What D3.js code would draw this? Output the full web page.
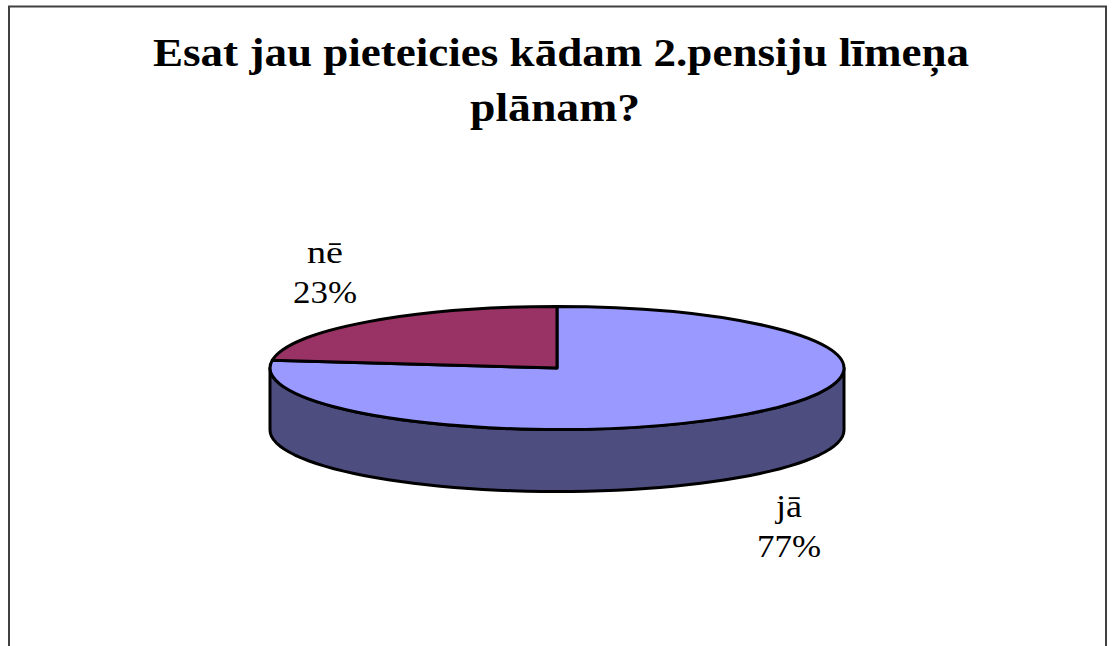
<!DOCTYPE html>
<html>
<head>
<meta charset="utf-8">
<script src="https://cdn.jsdelivr.net/npm/d3@7"></script>
<style>
  body { margin: 0; background: #fff; }
  svg { display: block; }
  text { font-family: "Liberation Serif", serif; fill: #000; }
</style>
</head>
<body>
<svg id="chart"></svg>
<script>
const categories = ["jā", "nē"];
const values = [77, 23];
const percentLabels = ["77%", "23%"];
const titleLines = ["Esat jau pieteicies kādam 2.pensiju līmeņa", "plānam?"];
const colors = ["#9999FF", "#993366"];
const sideColor = "#4D4D80";

const width = 1114;
const height = 646;

// pie geometry
const cx = 557;
const cy = 368;
const rx = 287;
const ry = 61.5;
const depth = 62;

const svg = d3.select("#chart").attr("width", width).attr("height", height);

// frame, runs off the bottom of the picture
svg.append("rect")
    .attr("x", 9)
    .attr("y", 6.5)
    .attr("width", 1097)
    .attr("height", 700)
    .attr("fill", "#fff")
    .attr("stroke", "#404040")
    .attr("stroke-width", 2);

// title
svg.selectAll(".title")
    .data(titleLines)
    .enter()
    .append("text")
    .attr("class", "title")
    .attr("x", (d, i) => i === 0 ? 153 : 470)
    .attr("y", (d, i) => 66 + i * 55)
    .attr("textLength", (d, i) => i === 0 ? 816 : 170)
    .attr("lengthAdjust", "spacingAndGlyphs")
    .style("font-size", "40px")
    .style("font-weight", "bold")
    .text(d => d);

const arcs = d3.pie().sort(null)(values);

// side wall: front half of the rim pushed down by depth
const angleScale = d3.scaleLinear().domain([0, 1]).range([Math.PI / 2, Math.PI * 3 / 2]);
const rimX = d3.scaleLinear().domain([-1, 1]).range([cx - rx, cx + rx]);
const rimY = d3.scaleLinear().domain([-1, 1]).range([cy - ry, cy + ry]);

const sideArea = d3.area()
    .x(t => rimX(Math.sin(angleScale(t))))
    .y0(t => rimY(-Math.cos(angleScale(t))))
    .y1(t => rimY(-Math.cos(angleScale(t))) + depth);

svg.append("path")
    .attr("d", sideArea(d3.range(0, 1.0001, 1 / 60)))
    .attr("fill", sideColor)
    .attr("stroke", "#000")
    .attr("stroke-width", 3)
    .attr("stroke-linejoin", "round");

// top of the pie, circle arcs squashed into an ellipse
const arcGen = d3.arc().innerRadius(0).outerRadius(rx);

svg.append("g")
    .attr("transform", `translate(${cx},${cy}) scale(1,${ry / rx})`)
    .selectAll("path")
    .data(arcs)
    .enter()
    .append("path")
    .attr("d", arcGen)
    .attr("fill", (d, i) => colors[i])
    .attr("stroke", "#000")
    .attr("stroke-width", 3)
    .attr("stroke-linejoin", "round")
    .attr("vector-effect", "non-scaling-stroke");

// labels, stretched a little wider like the original
const labelPos = [{ x: 789, y: 517 }, { x: 325, y: 263 }];
const nameWidths = [26, 36];

svg.selectAll(".pie-name")
    .data(arcs)
    .enter()
    .append("text")
    .attr("class", "pie-name")
    .attr("x", (d, i) => labelPos[i].x - nameWidths[i] / 2)
    .attr("y", (d, i) => labelPos[i].y)
    .attr("textLength", (d, i) => nameWidths[i])
    .attr("lengthAdjust", "spacingAndGlyphs")
    .style("font-size", "31px")
    .text((d, i) => categories[i]);

svg.selectAll(".pie-pct")
    .data(arcs)
    .enter()
    .append("text")
    .attr("class", "pie-pct")
    .attr("x", (d, i) => labelPos[i].x - 32)
    .attr("y", (d, i) => labelPos[i].y + 40)
    .attr("textLength", 64)
    .attr("lengthAdjust", "spacingAndGlyphs")
    .style("font-size", "31px")
    .text((d, i) => percentLabels[i]);
</script>
</body>
</html>
